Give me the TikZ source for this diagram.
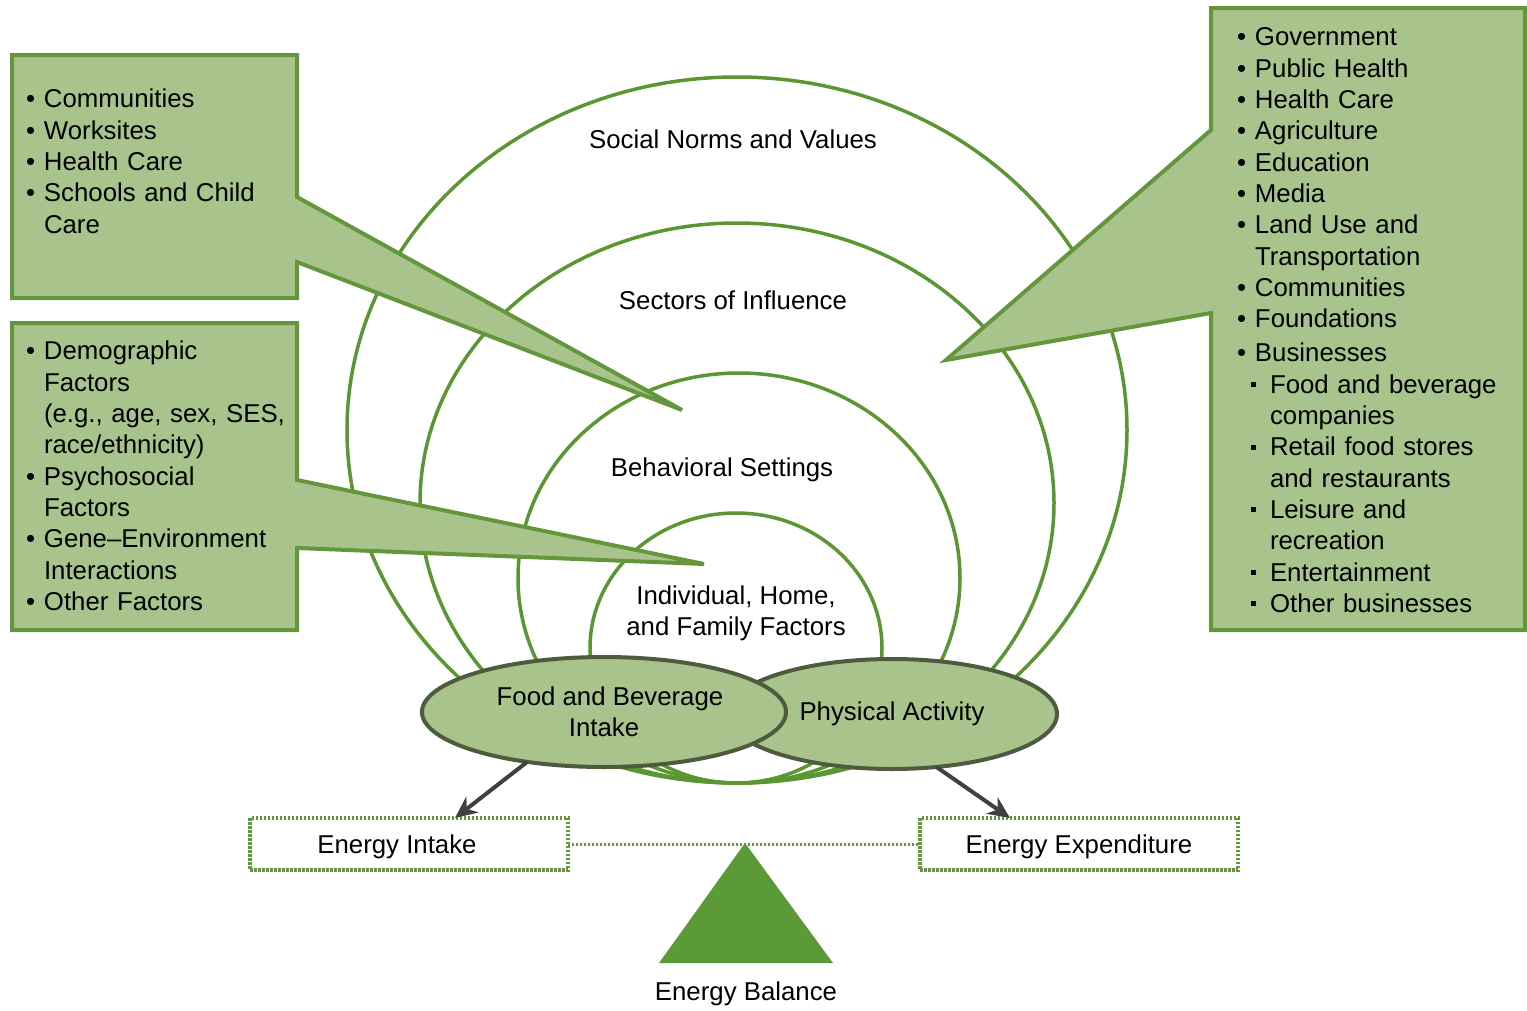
\documentclass[tikz,border=0pt]{standalone}
\usepackage{fontspec}
\setmainfont{Liberation Sans}
\usetikzlibrary{calc}
\usetikzlibrary{shapes.geometric}
\usetikzlibrary{arrows.meta}

\definecolor{ringgreen}{HTML}{5A9632}
\definecolor{boxfill}{HTML}{A8C48C}
\definecolor{boxline}{HTML}{64963C}
\definecolor{ovaline}{HTML}{4E5B3E}
\definecolor{arrowgray}{HTML}{404040}
\definecolor{scalegreen}{HTML}{5C9A38}

\newcommand{\bul}{\strut\makebox[18pt][l]{\textbullet}}
\newcommand{\ind}{\strut\hspace*{18pt}}
\newcommand{\subul}{\strut\hspace*{14pt}\makebox[19pt][l]{\raisebox{6pt}{\rule{5pt}{5pt}}}}
\newcommand{\subind}{\strut\hspace*{33pt}}

\begin{document}
\begin{tikzpicture}[x=1pt, y=-1pt, font=\fontsize{25.8}{31.3}\selectfont,
    every node/.style={inner sep=0pt,outer sep=0pt},
    ring/.style={draw=ringgreen, line width=3.5pt},
    bubble/.style={fill=boxfill, draw=boxline, line width=4pt},
    itemtext/.style={anchor=north west, text width=290pt, align=left},
    oval/.style={ellipse, fill=boxfill, draw=ovaline, line width=4pt, align=center},
    energy/.style={draw=boxline, line width=3.5pt, dash pattern=on 2.5pt off 1.5pt, minimum width=318pt, minimum height=52pt, text depth=0pt},
    dotline/.style={draw=boxline, line width=3pt, dash pattern=on 2pt off 2pt},
    arr/.style={draw=arrowgray, line width=4pt, -{Stealth[length=22pt,width=20pt]}}]
      \useasboundingbox (0,0) rectangle (1527,1010);

      \draw[ring] (737,430) ellipse [x radius=390, y radius=353];
      \draw[ring] (737,503) ellipse [x radius=317, y radius=280];
      \draw[ring] (739,578) ellipse [x radius=221, y radius=205];
      \draw[ring] (736,648) ellipse [x radius=146, y radius=135];

      \draw (733,139) node (social) {Social Norms and Values};
      \draw (733,300) node (sectors) {Sectors of Influence};
      \draw (722,470) node (settings) {Behavioral Settings};
      \draw (736,613) node[align=center] (individual) {Individual, Home,\\ and Family Factors};

      % callouts
      \filldraw[bubble] (12,55) -- (297,55) -- (297,197) -- (682,410) -- (297,262) -- (297,298) -- (12,298) -- cycle;
      \filldraw[bubble] (12,323) -- (297,323) -- (297,480) -- (704,564) -- (297,548) -- (297,630) -- (12,630) -- cycle;
      \filldraw[bubble] (1211,8) -- (1525,8) -- (1525,630) -- (1211,630) -- (1211,313) -- (946,360) -- (1211,130) -- cycle;

      \draw (26,86) node[itemtext] (settinglist) {\bul Communities\\ \bul Worksites\\ \bul Health Care\\ \bul Schools and Child\\ \ind Care};
      \draw (26,338) node[itemtext] (factorlist) {\bul Demographic\\ \ind Factors\\ \ind (e.g., age, sex, SES,\\ \ind race/ethnicity)\\ \bul Psychosocial\\ \ind Factors\\ \bul Gene--Environment\\ \ind Interactions\\ \bul Other Factors};
      \draw (1237,24) node[itemtext] (sectorlist) {\bul Government\\ \bul Public Health\\ \bul Health Care\\ \bul Agriculture\\ \bul Education\\ \bul Media\\ \bul Land Use and\\ \ind Transportation\\ \bul Communities\\ \bul Foundations\\[3pt] \bul Businesses\\ \subul Food and beverage\\ \subind companies\\ \subul Retail food stores\\ \subind and restaurants\\ \subul Leisure and\\ \subind recreation\\ \subul Entertainment\\ \subul Other businesses};

      \draw (892,714) node[oval, minimum width=330pt, minimum height=110pt] (activity) {Physical Activity};
      \draw (604,712) node[oval, minimum width=364pt, minimum height=110pt] (food) {\hspace*{12pt}Food and Beverage\\ Intake};

      \draw (409,844) node[energy] (intake) {Energy Intake\hspace*{24pt}};
      \draw (1079,844) node[energy] (expenditure) {Energy Expenditure};

      \draw[dotline] (intake) -- (expenditure);
      \draw[arr] (food.213) -- ($(intake.north)+(46,0)$);
      \draw[arr] (activity.310) -- ($(expenditure.north)+(-69,0)$);

      \fill[scalegreen] (745,843) -- (833,963) -- (659,963) -- cycle;
      \draw (746,994) node (balance) {Energy Balance};
    \end{tikzpicture}
\end{document}
